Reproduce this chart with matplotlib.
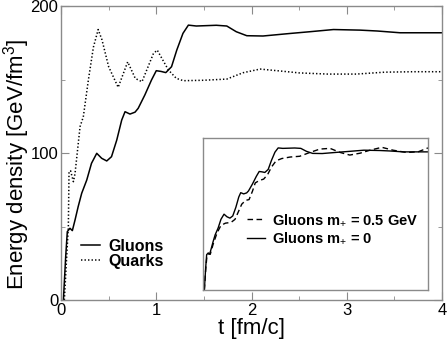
import matplotlib
matplotlib.use("Agg")
import matplotlib.pyplot as plt
from matplotlib.ticker import MultipleLocator

# =====================================
# DATA
# =====================================

gluon_t = [0.025, 0.049, 0.066, 0.094, 0.119, 0.147, 0.18, 0.217, 0.27, 0.32,
           0.375, 0.427, 0.48, 0.53, 0.585, 0.637, 0.672, 0.724, 0.777, 0.81,
           0.88, 0.95, 1.0, 1.05, 1.1, 1.16, 1.215, 1.28, 1.337, 1.42,
           1.63, 1.74, 1.84, 1.95, 2.12, 2.4, 2.61, 2.86, 3.14, 3.32,
           3.56, 4.0]
gluon_e = [0.0, 29.5, 46.5, 48.8, 47.2, 54.4, 63.5, 72.6, 81.6, 93.0,
           99.8, 96.4, 94.6, 97.5, 108.8, 122.4, 128.1, 126.5, 127.8, 130.4,
           139.5, 149.7, 156.0, 155.5, 154.7, 158.7, 170.0, 181.4, 187.0, 186.4,
           186.9, 186.4, 182.5, 179.8, 179.6, 181.3, 182.5, 184.0, 183.6, 183.0,
           181.8, 181.8]

quark_t = [0.035, 0.06, 0.077, 0.084, 0.1, 0.13, 0.147, 0.2, 0.234, 0.287,
           0.34, 0.39, 0.43, 0.5, 0.6, 0.7, 0.78, 0.85, 0.97, 1.01,
           1.127, 1.21, 1.284, 1.5, 1.74, 1.91, 2.09, 2.3, 2.5, 2.8,
           3.1, 3.4, 3.7, 4.0]
quark_e = [0.0, 30.0, 49.8, 87.0, 88.0, 80.5, 86.0, 118.0, 124.6, 149.6,
           172.0, 184.0, 177.0, 158.7, 144.7, 162.0, 150.7, 148.5, 167.7, 170.0,
           156.5, 150.8, 149.2, 149.5, 150.3, 154.6, 157.1, 155.8, 154.5, 153.7,
           153.7, 155.0, 155.3, 155.3]

massive_t = [0.025, 0.05, 0.07, 0.1, 0.13, 0.18, 0.25, 0.32, 0.4, 0.5,
             0.57, 0.63, 0.69, 0.76, 0.82, 0.88, 0.93, 1.0, 1.08, 1.15,
             1.22, 1.3, 1.4, 1.55, 1.72, 1.9, 2.08, 2.26, 2.44, 2.61,
             2.79, 2.97, 3.18, 3.38, 3.62, 3.83, 4.0]
massive_e = [0.0, 28.0, 44.0, 48.0, 47.0, 60.0, 75.0, 85.0, 88.0, 89.0,
             93.0, 103.0, 113.0, 118.0, 119.0, 130.0, 141.0, 144.0, 146.0, 152.0,
             162.0, 170.0, 173.0, 175.0, 176.0, 181.0, 185.5, 186.4, 181.0, 177.6,
             180.0, 184.0, 187.8, 184.0, 181.0, 182.0, 187.0]

x_ticks = [0, 1, 2, 3, 4]
y_ticks = [0, 100, 200]

# =====================================
# STYLE
# =====================================

plt.rcParams["font.family"] = ["Liberation Sans", "DejaVu Sans"]
plt.rcParams["mathtext.fontset"] = "custom"
plt.rcParams["mathtext.rm"] = "Liberation Sans"
plt.rcParams["mathtext.it"] = "Liberation Sans"
plt.rcParams["mathtext.bf"] = "Liberation Sans:bold"

frame_col = "#8a8a8a"

fig = plt.figure(figsize=(4.47, 3.40), dpi=100)
ax = fig.add_axes([0.1365, 0.1176, 0.8525, 0.8647])

ax.plot(gluon_t, gluon_e, color="black", lw=1.1, label="Gluons")
ax.plot(quark_t, quark_e, color="black", lw=1.1, linestyle=(0, (0.9, 1.4)),
        label="Quarks")

ax.set_xlim(0, 4)
ax.set_ylim(0, 200)
ax.set_xticks(x_ticks)
ax.set_yticks(y_ticks)
ax.xaxis.set_minor_locator(MultipleLocator(0.5))
ax.yaxis.set_minor_locator(MultipleLocator(50))
ax.tick_params(which="both", direction="in", top=True, right=True,
               color=frame_col, labelsize=12, pad=2)
ax.tick_params(which="major", length=6)
ax.tick_params(which="minor", length=3)
for s in ax.spines.values():
    s.set_color(frame_col)
    s.set_linewidth(1.0)

ax.set_xlabel("t [fm/c]", fontsize=16, labelpad=0)
ax.set_ylabel(r"Energy density [GeV/fm$^3$]", fontsize=16)
ax.yaxis.set_label_coords(-0.077, 0.46)

ax.legend(loc="upper left", bbox_to_anchor=(0.032, 0.235), frameon=False,
          prop={"weight": "bold", "size": 11.5}, handlelength=1.2,
          handletextpad=0.5, labelspacing=0.0, borderpad=0)

# =====================================
# INSET
# =====================================

ins = fig.add_axes([0.454, 0.147, 0.5034, 0.447])
ins.plot(massive_t, massive_e, color="black", lw=1.0, linestyle=(0, (4, 2.5)),
         label=r"Gluons m$_{+}$ = 0.5 GeV")
ins.plot(gluon_t, gluon_e, color="black", lw=1.0, label=r"Gluons m$_{+}$ = 0")
ins.set_xlim(0, 4)
ins.set_ylim(0, 200)
ins.set_xticks([])
ins.set_yticks([])
for s in ins.spines.values():
    s.set_color(frame_col)
    s.set_linewidth(1.0)

ins.legend(loc="upper left", bbox_to_anchor=(0.165, 0.558), frameon=False,
           prop={"weight": "bold", "size": 10.5}, handlelength=1.2,
           handletextpad=0.5, labelspacing=0.2, borderpad=0)

fig.savefig("out.png", dpi=100)
